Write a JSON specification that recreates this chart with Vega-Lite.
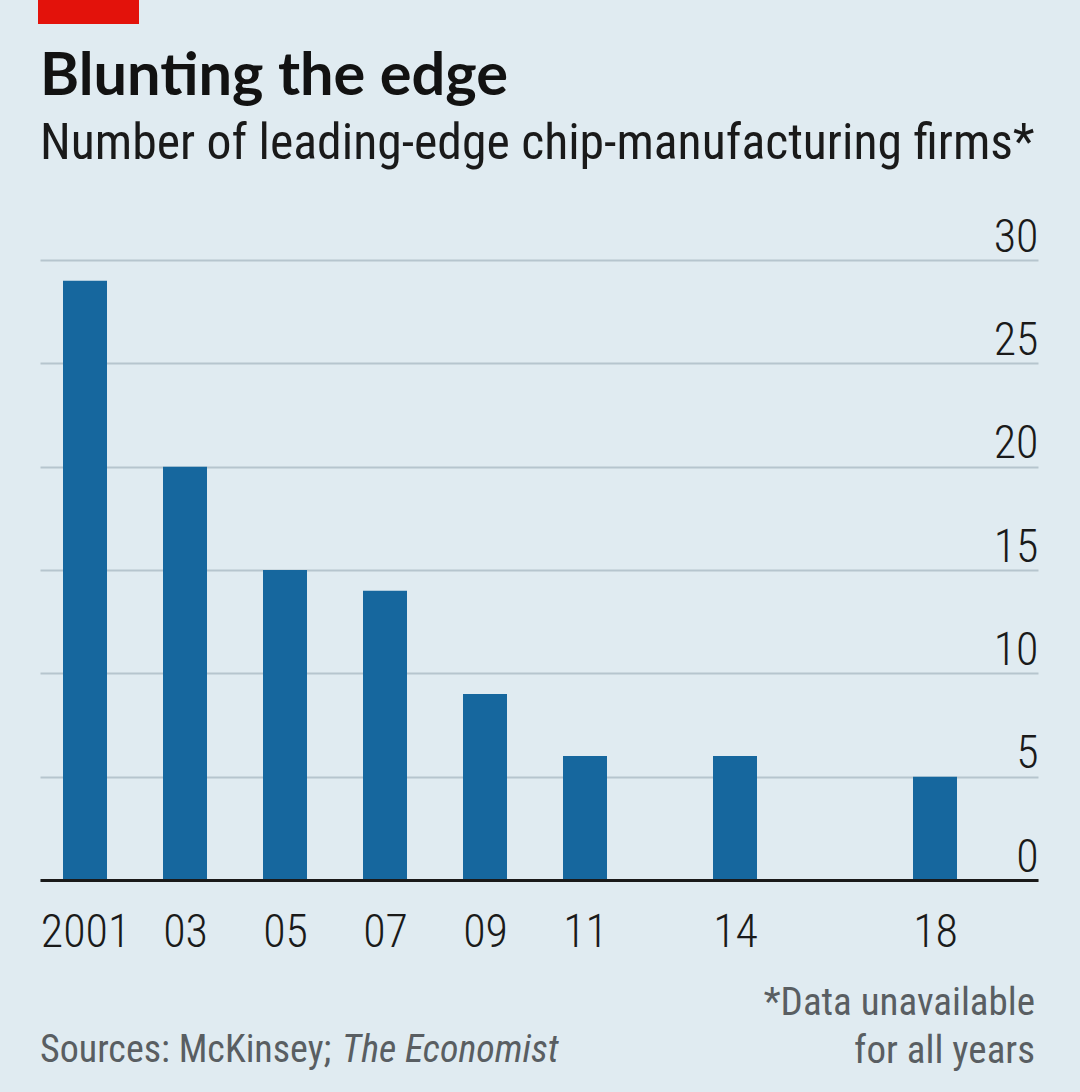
{
  "$schema": "https://vega.github.io/schema/vega-lite/v6.json",
  "autosize": "none",
  "width": 998,
  "height": 620,
  "padding": {"left": 40, "top": 260, "right": 42, "bottom": 212},
  "background": "#e0ebf1",
  "config": {"view": {"stroke": null}, "font": "Roboto Condensed, Roboto"},
  "title": {
    "text": "Blunting the edge",
    "subtitle": "Number of leading-edge chip-manufacturing firms*",
    "anchor": "start",
    "frame": "group",
    "font": "Lato",
    "fontSize": 59.5,
    "fontWeight": "bold",
    "color": "#121212",
    "subtitleFont": "Roboto Condensed, Roboto",
    "subtitleFontSize": 49.7,
    "subtitleFontWeight": 400,
    "subtitleColor": "#1a1a1a",
    "subtitlePadding": 13,
    "offset": -170
  },
  "data": {
    "values": [
      {"year": 2001, "firms": 29},
      {"year": 2003, "firms": 20},
      {"year": 2005, "firms": 15},
      {"year": 2007, "firms": 14},
      {"year": 2009, "firms": 9},
      {"year": 2011, "firms": 6},
      {"year": 2014, "firms": 6},
      {"year": 2018, "firms": 5}
    ]
  },
  "layer": [
    {
      "mark": {"type": "bar", "width": 44, "color": "#16679e"},
      "encoding": {
        "x": {
          "field": "year",
          "type": "quantitative",
          "scale": {"domain": [2000.1, 2020.06], "nice": false, "zero": false, "padding": 0},
          "axis": {
            "values": [2001, 2003, 2005, 2007, 2009, 2011, 2014, 2018],
            "format": "d",
            "labelExpr": "datum.value == 2001 ? datum.label : substring(datum.label, 2)",
            "title": null,
            "grid": false,
            "ticks": false,
            "tickSize": 0,
            "domainColor": "#1a1a1a",
            "domainWidth": 3,
            "labelFontSize": 46,
            "labelFontWeight": 300,
            "labelColor": "#1a1a1a",
            "labelPadding": 30,
            "labelFlush": false,
            "labelOverlap": false,
            "zindex": 1
          }
        },
        "y": {
          "field": "firms",
          "type": "quantitative",
          "scale": {"domain": [0, 30], "nice": false, "padding": 0},
          "axis": {
            "orient": "right",
            "values": [0, 5, 10, 15, 20, 25, 30],
            "title": null,
            "domain": false,
            "ticks": false,
            "tickSize": 0,
            "grid": true,
            "gridColor": "#b6c5ce",
            "gridWidth": 2,
            "labelAlign": "right",
            "labelBaseline": "alphabetic",
            "labelOffset": -9,
            "labelPadding": 0,
            "labelFontSize": 46,
            "labelFontWeight": 300,
            "labelColor": "#1a1a1a",
            "labelFlush": false,
            "labelOverlap": false
          }
        }
      }
    },
    {
      "data": {"values": [{}]},
      "mark": {"type": "rect", "color": "#e3120b"},
      "encoding": {
        "x": {"datum": 2000.06, "type": "quantitative"},
        "x2": {"datum": 2002.08},
        "y": {"datum": 42.58, "type": "quantitative"},
        "y2": {"datum": 41.42}
      }
    },
    {
      "data": {"values": [{}]},
      "mark": {"type": "text", "text": "Sources: McKinsey;", "align": "left", "baseline": "alphabetic", "fontSize": 38, "color": "#595e62"},
      "encoding": {
        "x": {"datum": 2000.1, "type": "quantitative"},
        "y": {"datum": -8.81, "type": "quantitative"}
      }
    },
    {
      "data": {"values": [{}]},
      "mark": {"type": "text", "text": "The Economist", "align": "left", "baseline": "alphabetic", "fontSize": 38, "fontStyle": "italic", "color": "#595e62"},
      "encoding": {
        "x": {"datum": 2006.14, "type": "quantitative"},
        "y": {"datum": -8.81, "type": "quantitative"}
      }
    },
    {
      "data": {"values": [{}]},
      "mark": {"type": "text", "text": ["*Data unavailable", "for all years"], "align": "right", "baseline": "alphabetic", "lineHeight": 48, "fontSize": 39, "color": "#595e62"},
      "encoding": {
        "x": {"datum": 2020.0, "type": "quantitative"},
        "y": {"datum": -6.53, "type": "quantitative"}
      }
    }
  ]
}
